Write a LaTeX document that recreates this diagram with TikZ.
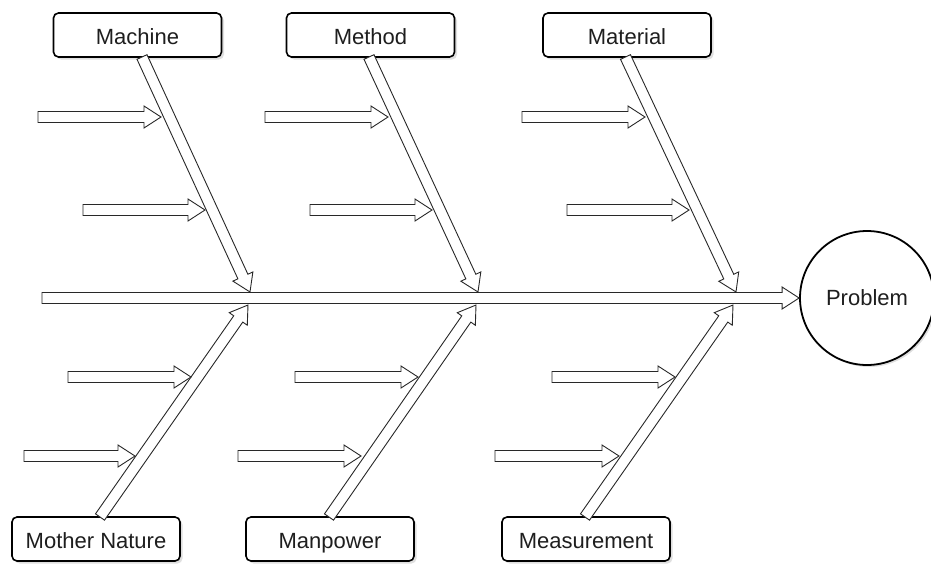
\documentclass[tikz,border=0pt]{standalone}
\usepackage{fontspec}
\setmainfont{Liberation Sans}
\usepackage{tikz}
\usetikzlibrary{calc,shadows}
\definecolor{fbline}{RGB}{40,40,40}
\definecolor{fbtext}{RGB}{30,30,30}
\tikzstyle{fat} = [draw=fbline, line width=0.9pt, fill=white, line join=miter]
\tikzstyle{cause} = [draw=black, line width=1.6pt, rounded corners=5pt, fill=white,
  minimum width=168pt, minimum height=44pt, text=fbtext,
  text height=18pt, text depth=0pt,
  font=\fontsize{22}{26}\selectfont,
  drop shadow={shadow xshift=2.5pt, shadow yshift=-2.5pt, opacity=0.25}]
% block arrow from #1 to #2
\newcommand\fatarrow[2]{%
  \draw[fat] let \p1=($(#2)-(#1)$), \n1={atan2(\y1,\x1)}, \n2={veclen(\x1,\y1)} in
    [shift={(#1)}, rotate=\n1]
    (0pt,-5.5pt) -- (\n2-17pt,-5.5pt) -- (\n2-17pt,-11pt) -- (\n2,0pt)
    -- (\n2-17pt,11pt) -- (\n2-17pt,5.5pt) -- (0pt,5.5pt) -- cycle;}

\begin{document}
\begin{tikzpicture}[x=1pt, y=-1pt]
\useasboundingbox (0,0) rectangle (931,563);

% Spine and problem
\node[draw=black, line width=1.8pt, circle, minimum size=134pt, fill=white,
  font=\fontsize{22}{26}\selectfont, text=fbtext,
  drop shadow={shadow xshift=2pt, shadow yshift=-2pt, opacity=0.25}] (prob) at (867,298) {Problem};
\coordinate (tail) at (42,298);
\fatarrow{tail}{prob.west}

% Causes on top
\node[cause] (mach) at (137.5,35) {Machine};
\node[cause] (meth) at (370.5,35) {Method};
\node[cause] (matl) at (627,35) {Material};

% Causes below
\node[cause] (moth) at (96,539) {Mother Nature};
\node[cause] (manp) at (330,539) {Manpower};
\node[cause] (meas) at (586,539) {Measurement};

% Tips on the spine
\coordinate (t1) at (250,292);
\coordinate (t2) at (478,292);
\coordinate (t3) at (736,292);
\coordinate (b1) at (248,305);
\coordinate (b2) at (476,305);
\coordinate (b3) at (733,305);

% Bones
\coordinate (s1) at (142,57);
\coordinate (s2) at (369,57);
\coordinate (s3) at (625.5,57);
\coordinate (u1) at (100,517);
\coordinate (u2) at (329,517);
\coordinate (u3) at (585,517);
\fatarrow{s1}{t1}
\fatarrow{s2}{t2}
\fatarrow{s3}{t3}
\fatarrow{u1}{b1}
\fatarrow{u2}{b2}
\fatarrow{u3}{b3}

% Sub causes, top
\foreach \dx/\col in {0/a, 227/b, 484/c} {
  \coordinate (p1\col) at (38+\dx,117);
  \coordinate (q1\col) at (161+\dx,117);
  \coordinate (p2\col) at (83+\dx,210);
  \coordinate (q2\col) at (205+\dx,210);
  \fatarrow{p1\col}{q1\col}
  \fatarrow{p2\col}{q2\col}
}

% Sub causes, bottom
\foreach \dx/\col in {0/a, 227/b, 484/c} {
  \coordinate (p3\col) at (68+\dx,377);
  \coordinate (q3\col) at (191+\dx,377);
  \fatarrow{p3\col}{q3\col}
}
\foreach \xa/\xb/\col in {24/135/a, 238/361/b, 495/619/c} {
  \coordinate (p4\col) at (\xa,456);
  \coordinate (q4\col) at (\xb,456);
  \fatarrow{p4\col}{q4\col}
}
\end{tikzpicture}
\end{document}
